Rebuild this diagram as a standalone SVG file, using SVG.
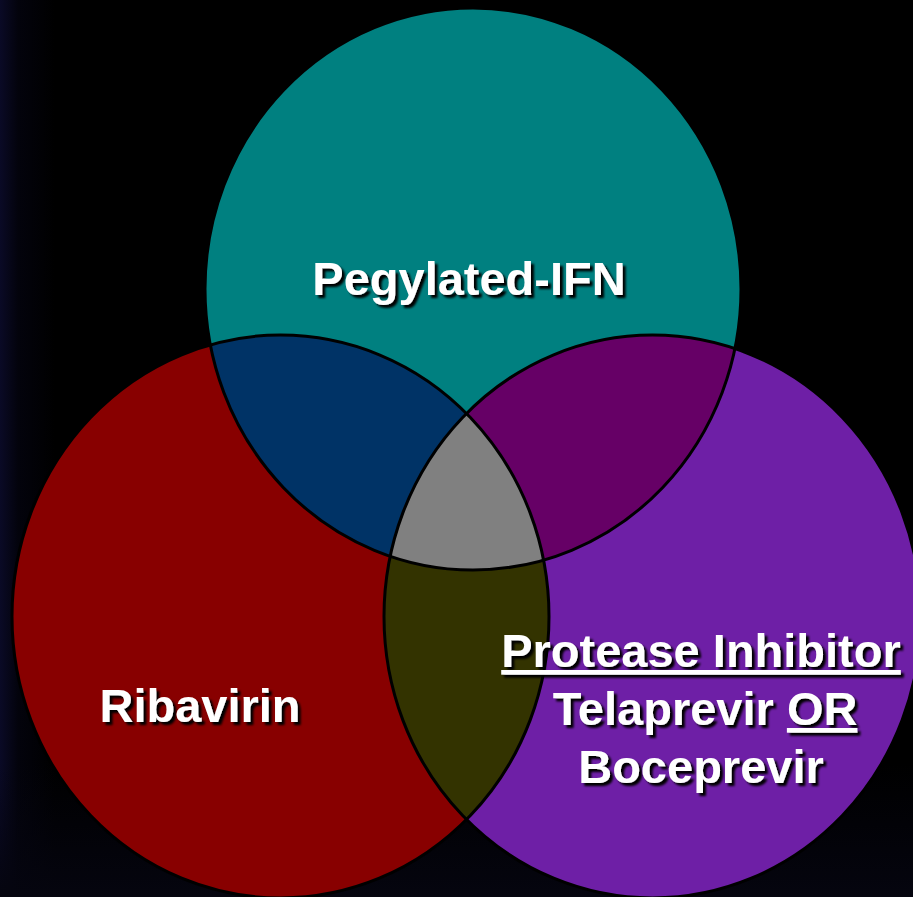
<svg xmlns="http://www.w3.org/2000/svg" width="913" height="897" viewBox="0 0 913 897">
  <style>
    .outline { fill: none; stroke: #000; stroke-width: 3; }
    .label { font-family: "Liberation Sans", Arial, sans-serif; font-weight: bold; font-size: 47px; fill: #fff; text-anchor: middle; }
    .u { text-decoration: underline; }
  </style>
  <defs>
    <linearGradient id="bgL" x1="0" y1="0" x2="1" y2="0">
      <stop offset="0" stop-color="#0a0a26"/>
      <stop offset="0.02" stop-color="#03030c"/>
      <stop offset="0.06" stop-color="#000"/>
      <stop offset="1" stop-color="#000"/>
    </linearGradient>
    <linearGradient id="bgB" x1="0" y1="0" x2="0" y2="1">
      <stop offset="0.85" stop-color="#04040f" stop-opacity="0"/>
      <stop offset="1" stop-color="#05050f" stop-opacity="1"/>
    </linearGradient>
    <clipPath id="clip-teal"><ellipse cx="473" cy="289" rx="268" ry="281"/></clipPath>
    <clipPath id="clip-red"><ellipse cx="280.5" cy="616.5" rx="268.5" ry="281.5"/></clipPath>
    <clipPath id="clip-purple"><ellipse cx="652.5" cy="616.5" rx="268.5" ry="281.5"/></clipPath>
    <filter id="shadow" x="-10%" y="-20%" width="120%" height="150%">
      <feDropShadow dx="3" dy="3" stdDeviation="0.9" flood-color="#000" flood-opacity="1"/>
    </filter>
  </defs>

  <rect width="913" height="897" fill="url(#bgL)"/>
  <rect width="913" height="897" fill="url(#bgB)"/>

  <g id="node-pegylated-ifn">
    <ellipse cx="473" cy="289" rx="268" ry="281" fill="#008080"/>
  </g>
  <g id="node-ribavirin">
    <ellipse cx="280.5" cy="616.5" rx="268.5" ry="281.5" fill="#880000"/>
  </g>
  <g id="node-protease-inhibitor">
    <ellipse cx="652.5" cy="616.5" rx="268.5" ry="281.5" fill="#6e1fa6"/>
  </g>

  <g id="overlaps">
    <ellipse cx="280.5" cy="616.5" rx="268.5" ry="281.5" fill="#003366" clip-path="url(#clip-teal)"/>
    <ellipse cx="652.5" cy="616.5" rx="268.5" ry="281.5" fill="#660066" clip-path="url(#clip-teal)"/>
    <ellipse cx="280.5" cy="616.5" rx="268.5" ry="281.5" fill="#333300" clip-path="url(#clip-purple)"/>
    <g clip-path="url(#clip-teal)">
      <ellipse cx="280.5" cy="616.5" rx="268.5" ry="281.5" fill="#808080" clip-path="url(#clip-purple)"/>
    </g>
  </g>

  <g id="outlines">
    <ellipse class="outline" cx="473" cy="289" rx="268" ry="281"/>
    <ellipse class="outline" cx="280.5" cy="616.5" rx="268.5" ry="281.5"/>
    <ellipse class="outline" cx="652.5" cy="616.5" rx="268.5" ry="281.5"/>
  </g>

  <g id="label-pegylated-ifn" filter="url(#shadow)">
    <text class="label" x="469" y="295">Pegylated-IFN</text>
  </g>
  <g id="label-ribavirin" filter="url(#shadow)">
    <text class="label" x="200" y="722">Ribavirin</text>
  </g>
  <g id="label-protease-inhibitor" filter="url(#shadow)">
    <text class="label u" x="701" y="667">Protease Inhibitor</text>
    <text class="label" x="705" y="725">Telaprevir <tspan class="u">OR</tspan></text>
    <text class="label" x="701" y="783">Boceprevir</text>
  </g>
</svg>
